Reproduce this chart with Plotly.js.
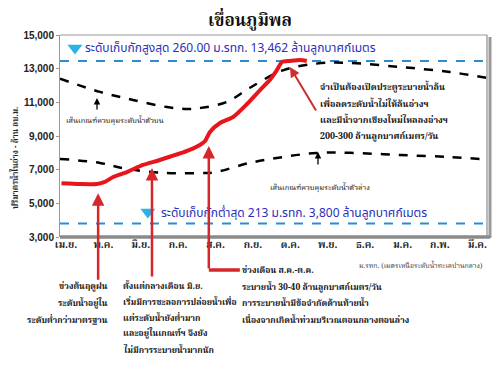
<!DOCTYPE html>
<html>
<head>
<meta charset="utf-8">
<script src="https://cdn.plot.ly/plotly-3.0.1.min.js"></script>
<style>html,body{margin:0;padding:0;background:#fff;}#chart{width:500px;height:374px;}</style>
</head>
<body>
<div id="chart"></div>
<script>
// Month labels (April .. March), x = month index from 1 April
const months = ["เม.ย.","พ.ค.","มิ.ย.","ก.ค.","ส.ค.","ก.ย.","ต.ค.","พ.ย.","ธ.ค.","ม.ค.","ก.พ.","มี.ค."];
const monthIdx = [0,1,2,3,4,5,6,7,8,9,10,11];

// Actual storage (million m3)
const actualX = [-0.12,0.37,0.83,1.04,1.26,1.63,2.06,2.51,3.24,3.58,3.72,3.85,4.12,4.47,4.84,5.19,5.45,5.64,5.78,5.99,6.26,6.44];
const actualY = [6200,6150,6150,6270,6565,6860,7280,7575,8110,8470,8700,9240,9770,10130,10900,11730,12330,12920,13400,13460,13520,13460];

// Upper rule curve
const upperX = [-0.16,0.91,1.79,2.7,3.24,3.58,4.3,4.91,5.8,6.7,7.5,8.93,10.27,11.26];
const upperY = [12400,11620,11140,10720,10600,10660,11020,11850,12900,13300,13350,13100,12800,12450];

// Lower rule curve
const lowerX = [-0.16,0.91,1.63,2.7,3.58,3.93,4.91,5.8,6.7,7.6,8.93,10.27,11.26];
const lowerY = [7640,7400,7040,6800,6800,6820,7400,7750,7990,8000,7870,7750,7600];

// Storage limits
const maxLevel = 13462;
const minLevel = 3800;
const yTicks = [3000,5000,7000,9000,11000,13000,15000];
const yTickText = ["3,000","5,000","7,000","9,000","11,000","13,000","15,000"];

const xr = [-0.16, 11.26];
const L = 60, R = 487, T = 35, B = 237;
const px = p => (p - L) / (R - L);
const py = p => (B - p) / (B - T);

const thaiSerif = "'Noto Serif Thai','Noto Sans Thai','DejaVu Serif',serif";
const thaiSans = "'Noto Sans Thai','Noto Sans','DejaVu Sans',sans-serif";

const traces = [
  {x: xr, y: [maxLevel, maxLevel], mode: 'lines', line: {color: '#2E8BD0', width: 2, dash: 'dash'}, hoverinfo: 'skip'},
  {x: xr, y: [minLevel, minLevel], mode: 'lines', line: {color: '#2E8BD0', width: 2, dash: 'dash'}, hoverinfo: 'skip'},
  {x: upperX, y: upperY, mode: 'lines', line: {color: '#000', width: 2.5, dash: 'dash', shape: 'spline', smoothing: 1}},
  {x: lowerX, y: lowerY, mode: 'lines', line: {color: '#000', width: 2.5, dash: 'dash', shape: 'spline', smoothing: 1}},
  {x: actualX, y: actualY, mode: 'lines', line: {color: '#E8161B', width: 4, shape: 'spline', smoothing: 0.6}},
  {x: [0.24, 2.19], y: [14230, 4480], mode: 'markers', marker: {symbol: 'triangle-down', size: 13, color: '#2AB3E6'}}
];

function tline(t, x, y, opts) {
  return Object.assign({text: t, xref: 'paper', yref: 'paper', x: px(x), y: py(y), showarrow: false,
    xanchor: 'left', yanchor: 'middle', font: {family: thaiSerif, size: 8.6, color: '#111'}}, opts || {});
}

const annotations = [
  {text: '<b>เขื่อนภูมิพล</b>', xref: 'paper', yref: 'paper', x: px(250), y: py(22), showarrow: false,
   xanchor: 'center', yanchor: 'middle', font: {family: thaiSerif, size: 17, color: '#111'}},
  {text: '<b>ปริมาตรน้ำในอ่าง - ล้าน ลบ.ม.</b>', xref: 'paper', yref: 'paper', x: px(15), y: py(158), showarrow: false,
   textangle: -90, xanchor: 'center', yanchor: 'middle', font: {family: thaiSerif, size: 8, color: '#222'}},
  tline('ระดับเก็บกักสูงสุด 260.00 ม.รทก. 13,462 ล้านลูกบาศก์เมตร', 83, 48, {font: {family: thaiSans, size: 12, color: '#2B2FB8'}}),
  tline('ระดับเก็บกักต่ำสุด 213 ม.รทก. 3,800 ล้านลูกบาศก์เมตร', 159, 213, {font: {family: thaiSans, size: 12, color: '#2B2FB8'}}),
  tline('เส้นเกณฑ์ควบคุมระดับน้ำตัวบน', 64, 121, {font: {family: thaiSerif, size: 7.5, color: '#111'}}),
  tline('เส้นเกณฑ์ควบคุมระดับน้ำตัวล่าง', 268, 188, {font: {family: thaiSerif, size: 7.5, color: '#111'}}),
  tline('<b>จำเป็นต้องเปิดประตูระบายน้ำล้น</b>', 318, 87, {font: {family: thaiSerif, size: 9, color: '#111'}}),
  tline('<b>เพื่อลดระดับน้ำไม่ให้ล้นอ่างฯ</b>', 318, 104, {font: {family: thaiSerif, size: 9, color: '#111'}}),
  tline('<b>และมีน้ำจากเชียงใหม่ไหลลงอ่างฯ</b>', 318, 120, {font: {family: thaiSerif, size: 9, color: '#111'}}),
  tline('<b>200-300 ล้านลูกบาศก์เมตร/วัน</b>', 318, 136, {font: {family: thaiSerif, size: 9, color: '#111'}}),
  tline('ม.รทก. (เมตรเหนือระดับน้ำทะเลปานกลาง)', 485, 266, {xanchor: 'right', font: {family: thaiSerif, size: 7, color: '#444'}}),
  tline('<b>ช่วงต้นฤดูฝน</b>', 110, 287, {xanchor: 'right'}),
  tline('<b>ระดับน้ำอยู่ใน</b>', 110, 303, {xanchor: 'right'}),
  tline('<b>ระดับต่ำกว่ามาตรฐาน</b>', 110, 320, {xanchor: 'right'}),
  tline('<b>ตั้งแต่กลางเดือน มิ.ย.</b>', 121, 286),
  tline('<b>เริ่มมีการชะลอการปล่อยน้ำเพื่อ</b>', 121, 302),
  tline('<b>แต่ระดับน้ำยังต่ำมาก</b>', 121, 318),
  tline('<b>และอยู่ในเกณฑ์ฯ จึงยัง</b>', 121, 334),
  tline('<b>ไม่มีการระบายน้ำมากนัก</b>', 121, 350),
  tline('<b>ช่วงเดือน ส.ค.-ต.ค.</b>', 240, 271),
  tline('<b>ระบายน้ำ 30-40 ล้านลูกบาศก์เมตร/วัน</b>', 240, 287),
  tline('<b>การระบายน้ำมีข้อจำกัดด้านท้ายน้ำ</b>', 240, 303),
  tline('<b>เนื่องจากเกิดน้ำท่วมบริเวณตอนกลางตอนล่าง</b>', 240, 320),
  // arrows
  {x: 0.83, y: 11260, xref: 'x', yref: 'y', ax: 0, ay: 13, text: '', showarrow: true, arrowhead: 2, arrowsize: 1, arrowwidth: 1.3, arrowcolor: '#000'},
  {x: 6.74, y: 8050, xref: 'x', yref: 'y', ax: 0, ay: 14, text: '', showarrow: true, arrowhead: 2, arrowsize: 1, arrowwidth: 1.3, arrowcolor: '#000'},
  {x: 5.99, y: 13100, xref: 'x', yref: 'y', ax: 27, ay: 45, text: '', showarrow: true, arrowhead: 2, arrowsize: 1, arrowwidth: 2, arrowcolor: '#C9302C'},
  {x: 0.86, y: 5600, xref: 'x', yref: 'y', ax: 0, ay: 88, text: '', showarrow: true, arrowhead: 2, arrowsize: 1, arrowwidth: 2.5, arrowcolor: '#D7262B'},
  {x: 2.30, y: 7100, xref: 'x', yref: 'y', ax: 0, ay: 110, text: '', showarrow: true, arrowhead: 2, arrowsize: 1, arrowwidth: 2.5, arrowcolor: '#D7262B'},
  {x: 3.82, y: 8400, xref: 'x', yref: 'y', ax: 0, ay: 124, text: '', showarrow: true, arrowhead: 2, arrowsize: 1, arrowwidth: 2.5, arrowcolor: '#D7262B'}
];

const shapes = [
  {type: 'line', xref: 'x', yref: 'paper', x0: 3.82, x1: 4.65, y0: py(270), y1: py(270), line: {color: '#D7262B', width: 3.5}},
  // frame with shadow
  {type: 'line', xref: 'paper', yref: 'paper', x0: px(490), x1: px(490), y0: py(238), y1: py(37), line: {color: '#9a9a9a', width: 3}},
  {type: 'line', xref: 'paper', yref: 'paper', x0: 0, x1: 1, y0: 1, y1: 1, line: {color: '#999', width: 1}},
  {type: 'line', xref: 'paper', yref: 'paper', x0: 1, x1: 1, y0: 0, y1: 1, line: {color: '#777', width: 1}},
  {type: 'line', xref: 'paper', yref: 'paper', x0: 0, x1: px(490), y0: 0, y1: 0, line: {color: '#8a8a8a', width: 3.5}}
];

const layout = {
  width: 500, height: 374,
  margin: {l: L, r: 500 - R, t: T, b: 374 - B},
  paper_bgcolor: '#fff', plot_bgcolor: '#fff',
  showlegend: false,
  xaxis: {range: xr, tickvals: monthIdx, ticktext: months, showgrid: false, zeroline: false,
    showline: false, ticks: '', ticklen: 0, tickfont: {family: thaiSerif, size: 10, color: '#222', weight: 'bold'}},
  yaxis: {range: [3000, 15000], tickvals: yTicks, ticktext: yTickText, showgrid: false, zeroline: false,
    showline: true, linecolor: '#999', linewidth: 1, ticks: 'outside', ticklen: 3, tickcolor: '#999',
    tickfont: {family: 'Liberation Sans, Arial, sans-serif', size: 10, color: '#222', weight: 'bold'}},
  annotations: annotations,
  shapes: shapes
};

Plotly.newPlot('chart', traces, layout, {staticPlot: true, displayModeBar: false});
</script>
</body>
</html>
